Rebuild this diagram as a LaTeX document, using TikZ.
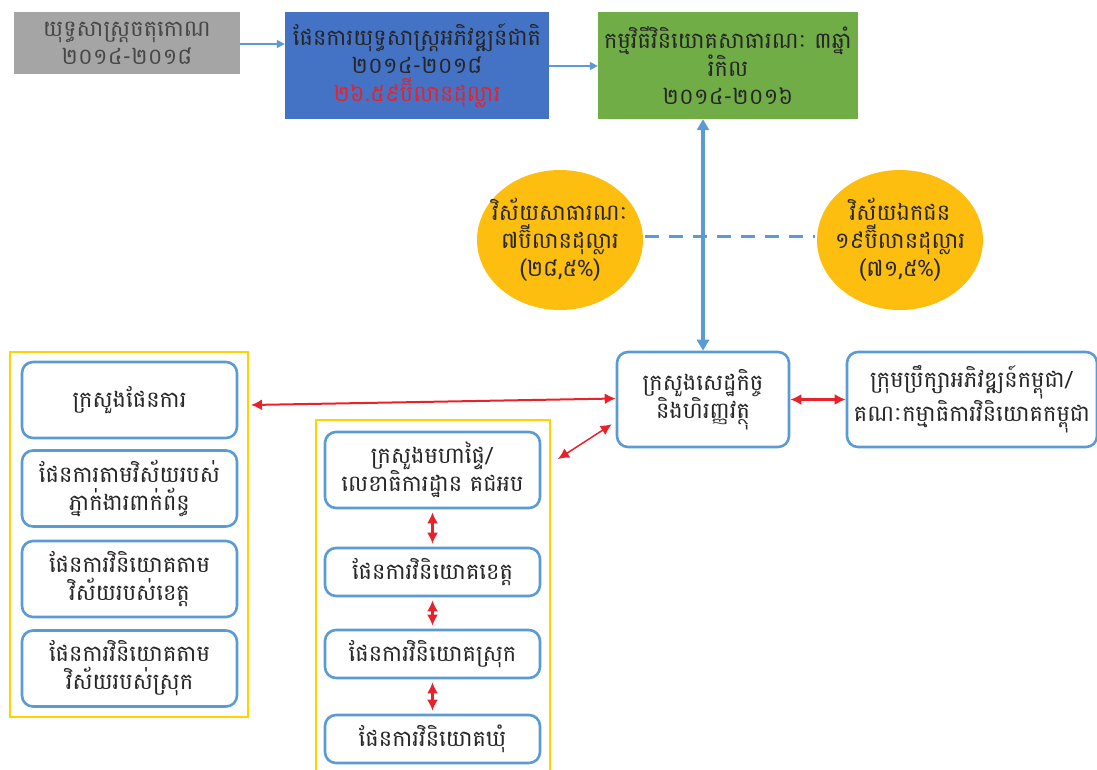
\documentclass[tikz,border=0pt]{standalone}
\usepackage{fontspec}
\usepackage{xcolor}
\usepackage{tikz}
\usetikzlibrary{arrows.meta,positioning,calc,shapes.geometric}
\newfontfamily\khmer[Script=Khmer]{Battambang}
\definecolor{Ink}{HTML}{262626}
\definecolor{Edge}{HTML}{5B9BD5}
\definecolor{Plan}{HTML}{4472C4}
\definecolor{Leaf}{HTML}{70AD47}
\definecolor{Stone}{HTML}{A5A5A5}
\definecolor{Sun}{HTML}{FDBE10}
\definecolor{Frame}{HTML}{FFD200}
\definecolor{Alert}{HTML}{E8212A}
\tikzset{
  topbox/.style={inner sep=0pt,align=center,text=Ink},
  planbox/.style={draw=Edge,line width=2.6pt,rounded corners=11pt,fill=white,
    inner sep=0pt,align=center,text=Ink,minimum width=215,minimum height=76},
  flatbox/.style={planbox,minimum height=48},
  sector/.style={ellipse,fill=Sun,inner sep=0pt,minimum width=166,minimum height=140,
    label={[align=center,text=Ink,inner sep=0pt]center:#1}},
  group/.style={draw=Frame,line width=2pt,inner sep=0pt},
  flow/.style={draw=Edge,line width=1.4pt,-{Triangle[length=8pt,width=8pt]}},
  link/.style={draw=Alert,line width=2.4pt,{Latex[length=11pt,width=11pt]}-{Latex[length=11pt,width=11pt]}}
}
\begin{document}
\begin{tikzpicture}[x=1pt,y=-1pt,font=\khmer\fontsize{22.5}{28}\selectfont]
  \useasboundingbox (0,0) rectangle (1097,769);
  % top row
  \node[topbox,fill=Stone,minimum width=226,minimum height=62,text=Ink!85] (rect) at (127,43)
    {យុទ្ធសាស្ត្រចតុកោណ\\២០១៤-២០១៨};
  \node[topbox,fill=Plan,minimum width=264,minimum height=107] (ndp) at (417,65.5)
    {ផែនការយុទ្ធសាស្ត្រអភិវឌ្ឍន៍ជាតិ\\២០១៤-២០១៨\\\textcolor{Alert}{២៦.៥៩ប៊ីលានដុល្លារ}};
  \node[topbox,fill=Leaf,minimum width=260,minimum height=107] (pip) at (728,65.5)
    {កម្មវិធីវិនិយោគសាធារណៈ ៣ឆ្នាំ\\រំកិល\\២០១៤-២០១៦};
  \draw[flow] (rect.east |- 0,44) -- (ndp.west |- 0,44);
  \draw[flow] (ndp.east |- 0,66) -- (pip.west |- 0,66);
  % sectors
  \node[sector={វិស័យសាធារណៈ\\៧ប៊ីលានដុល្លារ\\(២៨,៥\%)}] (pub) at (560,240) {};
  \node[sector={វិស័យឯកជន\\១៩ប៊ីលានដុល្លារ\\(៧១,៥\%)}] (prv) at (900,240) {};
  \draw[draw=Edge,line width=3pt,dash pattern=on 14pt off 10pt]
    ($(pub.east)+(2,-4)$) -- ($(prv.west)+(-2,-4)$);
  % ministries
  \node[planbox,minimum width=172,minimum height=95] (mef) at (703,399.5)
    {ក្រសួងសេដ្ឋកិច្ច\\និងហិរញ្ញវត្ថុ};
  \node[planbox,minimum width=250,minimum height=95] (cdc) at (972,399.5)
    {ក្រុមប្រឹក្សាអភិវឌ្ឍន៍កម្ពុជា/\\គណៈកម្មាធិការវិនិយោគកម្ពុជា};
  \draw[draw=Edge,line width=4pt,{Triangle[length=11pt,width=12pt]}-{Triangle[length=11pt,width=12pt]}]
    (pip.south -| mef.north) -- (mef.north);
  \draw[link] (mef.east) -- (cdc.west);
  % left column
  \node[group,minimum width=238,minimum height=365] (lf) at (129,534.5) {};
  \node[planbox] (mop) at (129.5,400) {ក្រសួងផែនការ};
  \node[planbox] (agn) at (129.5,488.5) {ផែនការតាមវិស័យរបស់\\ភ្នាក់ងារពាក់ព័ន្ធ};
  \node[planbox] (prs) at (129.5,579) {ផែនការវិនិយោគតាម\\វិស័យរបស់ខេត្ត};
  \node[planbox] (dst) at (129.5,668.5) {ផែនការវិនិយោគតាម\\វិស័យរបស់ស្រុក};
  \draw[link,line width=2pt] ($(mef.west)+(0,-1)$) -- ($(lf.east |- mop.east)+(2,5)$);
  % middle column
  \node[group,minimum width=234,minimum height=356] (mf) at (433,598) {};
  \node[planbox] (moi) at (432.5,470) {ក្រសួងមហាផ្ទៃ/\\លេខាធិការដ្ឋាន គជអប};
  \node[flatbox] (prv1) at (432.5,572) {ផែនការវិនិយោគខេត្ត};
  \node[flatbox] (dst1) at (432.5,654) {ផែនការវិនិយោគស្រុក};
  \node[flatbox] (com1) at (432.5,739) {ផែនការវិនិយោគឃុំ};
  \draw[link] ($(moi.south)+(0,3)$) -- ($(prv1.north)+(0,-3)$);
  \draw[link] ($(prv1.south)+(0,3)$) -- ($(dst1.north)+(0,-3)$);
  \draw[link] ($(dst1.south)+(0,3)$) -- ($(com1.north)+(0,-3)$);
  \draw[link,line width=1.5pt] ($(mf.north east)+(7,40)$) -- ($(mef.south west)+(-4,-24)$);
\end{tikzpicture}
\end{document}
